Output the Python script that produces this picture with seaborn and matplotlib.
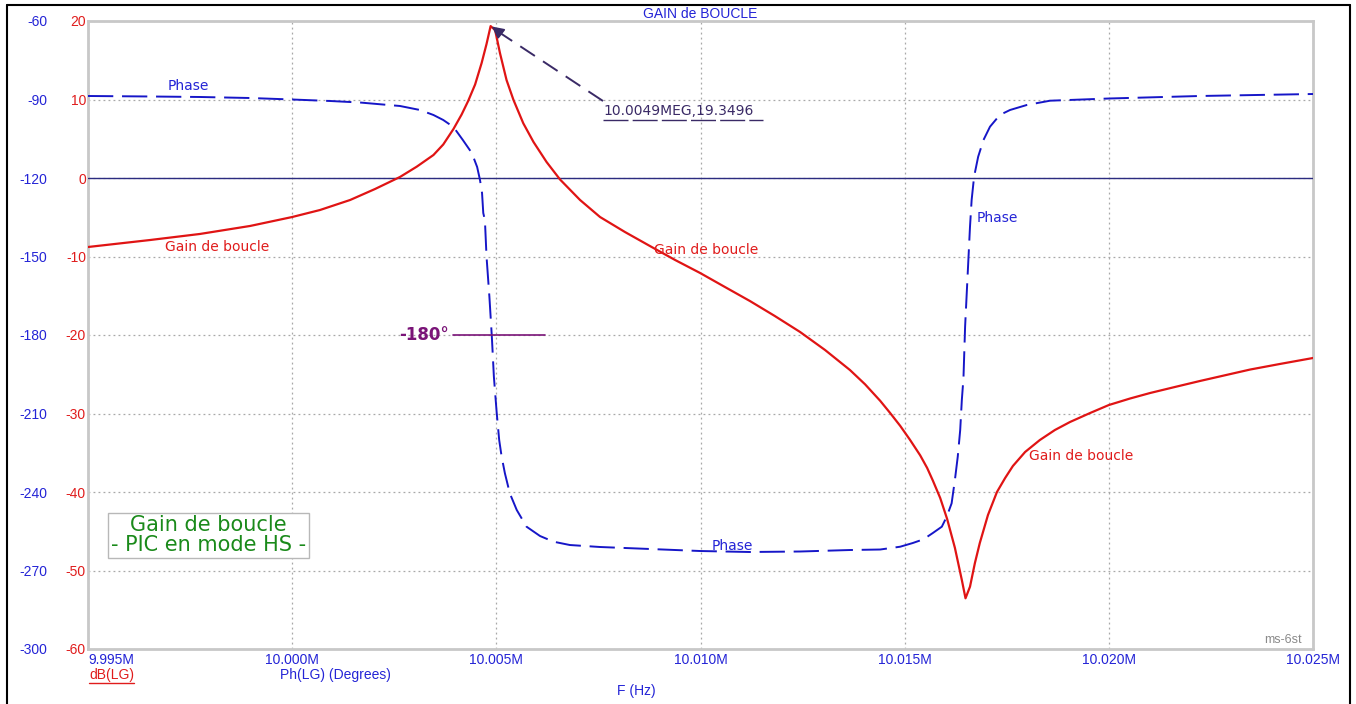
import matplotlib
matplotlib.use("Agg")
import matplotlib.pyplot as plt
from matplotlib.lines import Line2D
import seaborn as sns
import pandas as pd

# ---------------- data ----------------
gain_freq = [9.99500, 9.99652, 9.99774, 9.99897, 10.00000, 10.00068, 10.00142,
             10.00203, 10.00264, 10.00305, 10.00346, 10.00370, 10.00395, 10.00415,
             10.00431, 10.00448, 10.00464, 10.00476, 10.00486, 10.00497, 10.00509,
             10.00525, 10.00542, 10.00566, 10.00591, 10.00623, 10.00656, 10.00705,
             10.00754, 10.00815, 10.00876, 10.00938, 10.00999, 10.01060, 10.01121,
             10.01182, 10.01244, 10.01305, 10.01366, 10.01403, 10.01440, 10.01464,
             10.01489, 10.01513, 10.01538, 10.01555, 10.01569, 10.01587, 10.01604,
             10.01623, 10.01640, 10.01649, 10.01660, 10.01672, 10.01684, 10.01704,
             10.01726, 10.01746, 10.01765, 10.01795, 10.01831, 10.01868, 10.01905,
             10.01954, 10.02000, 10.02052, 10.02101, 10.02162, 10.02223, 10.02346,
             10.02419, 10.02500]
gain_db = [-8.79, -7.90, -7.13, -6.11, -4.97, -4.08, -2.80,
           -1.40, 0.13, 1.44, 2.93, 4.27, 6.24, 8.09,
           9.81, 11.91, 14.65, 17.07, 19.35, 18.85, 15.89,
           12.48, 9.94, 6.97, 4.59, 2.04, -0.19, -2.80,
           -4.97, -6.88, -8.66, -10.45, -12.10, -13.89, -15.67,
           -17.58, -19.62, -21.91, -24.46, -26.28, -28.38, -29.91,
           -31.57, -33.35, -35.33, -36.93, -38.54, -40.76, -43.44,
           -47.11, -51.21, -53.54, -52.06, -49.05, -46.50, -42.93,
           -40.00, -38.22, -36.69, -34.90, -33.38, -32.10, -31.08,
           -29.94, -28.92, -28.09, -27.39, -26.62, -25.86, -24.40,
           -23.69, -22.93]

phase_freq = [9.99500, 9.99652, 9.99774, 9.99897, 10.00000, 10.00093, 10.00166,
              10.00264, 10.00313, 10.00346, 10.00370, 10.00395, 10.00418, 10.00440,
              10.00453, 10.00460, 10.00465, 10.00468, 10.00472, 10.00476, 10.00483,
              10.00489, 10.00494, 10.00501, 10.00507, 10.00513, 10.00521, 10.00533,
              10.00550, 10.00574, 10.00607, 10.00640, 10.00680, 10.00754, 10.00876,
              10.00999, 10.01121, 10.01244, 10.01366, 10.01440, 10.01489, 10.01520,
              10.01546, 10.01569, 10.01591, 10.01603, 10.01615, 10.01623, 10.01630,
              10.01636, 10.01640, 10.01644, 10.01648, 10.01652, 10.01656, 10.01660,
              10.01664, 10.01670, 10.01680, 10.01693, 10.01709, 10.01733, 10.01758,
              10.01799, 10.01856, 10.02000, 10.02223, 10.02500]
phase_deg = [-88.66, -88.85, -89.04, -89.43, -90.00, -90.57, -91.15,
             -92.48, -94.01, -95.92, -97.83, -100.51, -105.48, -110.45,
             -115.80, -120.76, -125.73, -133.38, -136.05, -150.08, -165.36,
             -180.65, -195.94, -209.93, -220.13, -226.51, -232.86, -240.50,
             -246.88, -253.26, -256.82, -258.99, -260.26, -261.02, -261.78,
             -262.55, -262.93, -262.74, -262.17, -261.98, -260.91, -259.49,
             -258.08, -255.67, -253.26, -249.44, -244.32, -235.41, -226.51,
             -216.31, -204.84, -196.43, -176.83, -164.06, -151.34, -138.61,
             -128.41, -119.50, -111.86, -105.48, -100.39, -95.92, -94.01,
             -92.10, -90.46, -89.62, -88.66, -87.90]

x_ticks = [9.995, 10.000, 10.005, 10.010, 10.015, 10.020, 10.025]
x_tick_labels = ["9.995M", "10.000M", "10.005M", "10.010M", "10.015M", "10.020M", "10.025M"]
db_ticks = [20, 10, 0, -10, -20, -30, -40, -50, -60]
phase_ticks = [-60, -90, -120, -150, -180, -210, -240, -270, -300]

peak_freq, peak_db = 10.00486, 19.3496

# ---------------- style ----------------
sns.set_theme(style="white")
plt.rcParams["font.family"] = ["DejaVu Sans"]

BLUE_TXT = "#2424d6"
RED_TXT = "#e01c1c"
RED_LINE = "#e01414"
BLUE_LINE = "#1616c8"
GRID = "#a8a8a8"
FRAME = "#c8c8c8"
PURPLE = "#7a1478"
ANN = "#3a2a66"
GREEN = "#1a8a1a"

W, H = 1356, 704
fig = plt.figure(figsize=(W / 100, H / 100), dpi=100)
fig.patch.set_facecolor("white")

L, R, T, B = 88, 1313, 21, 649
ax = fig.add_axes([L / W, 1 - B / H, (R - L) / W, (B - T) / H])
ax2 = ax.twinx()

# gain (dB) on the primary axis
gdf = pd.DataFrame({"F": gain_freq, "dB": gain_db})
sns.lineplot(data=gdf, x="F", y="dB", ax=ax, color=RED_LINE, lw=1.6,
             estimator=None, sort=False, zorder=5)

# phase on the twin axis
pdf = pd.DataFrame({"F": phase_freq, "Ph": phase_deg})
sns.lineplot(data=pdf, x="F", y="Ph", ax=ax2, color=BLUE_LINE, lw=1.4,
             estimator=None, sort=False, zorder=5)
for ln in ax2.get_lines():
    ln.set_dashes((13, 4.5))

ax.set_xlim(9.995, 10.025)
ax.set_ylim(-60, 20)
ax2.set_ylim(-300, -60)

# grid
ax.set_xticks(x_ticks)
ax.set_xticklabels(x_tick_labels)
ax.set_yticks(db_ticks)
ax.set_yticklabels([str(v) for v in db_ticks])
ax.grid(True, linestyle=(0, (1.5, 2.5)), color=GRID, lw=0.9)
ax.axhline(0, color="#2c2c80", lw=1.0, zorder=3)
ax.set_axisbelow(True)
ax2.grid(False)
ax2.set_yticks(phase_ticks)
ax2.set_yticklabels([str(v) for v in phase_ticks])

for s in ax.spines.values():
    s.set_color(FRAME)
    s.set_linewidth(2)
for s in ax2.spines.values():
    s.set_visible(False)

ax.tick_params(axis="x", length=0, pad=3, labelsize=10, labelcolor=BLUE_TXT)
ax.tick_params(axis="y", length=0, pad=1.5, labelsize=10, labelcolor=RED_TXT)
ax2.yaxis.set_ticks_position("left")
ax2.yaxis.set_label_position("left")
ax2.tick_params(axis="y", length=0, pad=29.5, labelsize=10, labelcolor=BLUE_TXT)
for lab in ax.get_xticklabels() + ax.get_yticklabels() + ax2.get_yticklabels():
    lab.set_fontfamily("Liberation Sans")
ax.get_xticklabels()[0].set_horizontalalignment("left")
ax.set_xlabel("")
ax.set_ylabel("")
ax2.set_ylabel("")


def px2data(x, y, phase=False):
    f = 9.995 + (x - L) / (R - L) * 0.030
    if phase:
        return f, -60 - (y - T) / (B - T) * 240
    return f, 20 - (y - T) / (B - T) * 80


# curve labels
for txt, (x, y), ph, col, ha in [
    ("Phase", (188, 86), True, BLUE_TXT, "center"),
    ("Gain de boucle", (217, 247), False, RED_TXT, "center"),
    ("Gain de boucle", (706, 250), False, RED_TXT, "center"),
    ("Phase", (977, 218), True, BLUE_TXT, "left"),
    ("Gain de boucle", (1081, 456), False, RED_TXT, "center"),
    ("Phase", (732, 546), True, BLUE_TXT, "center"),
]:
    a = ax2 if ph else ax
    fx, fy = px2data(x, y, ph)
    a.text(fx, fy, txt, color=col, fontsize=10, ha=ha, va="center", zorder=7)

# -180 deg marker
f1, p1 = px2data(453, 336, True)
f2, _ = px2data(545, 336, True)
ax2.plot([f1, f2], [-180, -180], color=PURPLE, lw=1.2, zorder=6)
fx, _ = px2data(449, 336, True)
ax2.text(fx, -180, "-180°", color=PURPLE, fontsize=12, fontweight="bold",
         ha="right", va="center", zorder=7)

# peak annotation (dashed arrow)
sx, sy = px2data(603, 101)
ax.plot([sx, peak_freq + 0.00008], [sy, peak_db - 0.35], color=ANN, lw=1.4,
        dashes=(9, 5), zorder=8)
hx, hy = px2data(499, 32)
ax.annotate("", xy=(peak_freq + 0.00003, peak_db - 0.05), xytext=(hx, hy),
            arrowprops=dict(arrowstyle="-|>,head_length=0.6,head_width=0.3",
                            color=ANN, lw=1.2, shrinkA=0, shrinkB=0), zorder=8)
tx, ty = px2data(603, 111)
ax.text(tx, ty, f"{peak_freq + 0.00004:.4f}MEG,{peak_db:.4f}", color=ANN,
        fontsize=10, ha="left", va="center", zorder=8)
ux1, uy = px2data(603, 120)
ux2, _ = px2data(763, 120)
ax.plot([ux1, ux2], [uy, uy], color=ANN, lw=1.0, dashes=(18, 3), zorder=8)

# title and axis texts (figure pixels)
def ftext(x, y, s, **kw):
    fig.text(x / W, 1 - y / H, s, **kw)

ftext(700, 14, "GAIN de BOUCLE", color=BLUE_TXT, fontsize=10, ha="center",
      va="center", fontfamily="Liberation Sans")
ftext(636, 691, "F (Hz)", color=BLUE_TXT, fontsize=10, ha="center", va="center",
      fontfamily="Liberation Sans")
ftext(89, 675, "dB(LG)", color=RED_TXT, fontsize=10, ha="left", va="center",
      fontfamily="Liberation Sans")
fig.add_artist(Line2D([89 / W, 134 / W], [1 - 683 / H, 1 - 683 / H],
                      color=RED_TXT, lw=1.0))
ftext(280, 675, "Ph(LG) (Degrees)", color=BLUE_TXT, fontsize=10, ha="left",
      va="center", fontfamily="Liberation Sans")
ftext(1302, 640, "ms-6st", color="#8a8a8a", fontsize=9, ha="right", va="center",
      fontfamily="Liberation Sans")

# green info box
ftext(208.5, 535, "Gain de boucle\n- PIC en mode HS -", color=GREEN, fontsize=15,
      ha="center", va="center", linespacing=1.0,
      bbox=dict(boxstyle="square,pad=0.12", fc="white", ec="#b8b8b8", lw=1.0))

# outer black frame
for xs, ys in [([7, 7], [5, 704]), ([7, 1350], [5, 5]), ([1350, 1350], [5, 704])]:
    fig.add_artist(Line2D([x / W for x in xs], [1 - y / H for y in ys],
                          color="black", lw=1.5))

fig.savefig("out.png", dpi=100, facecolor="white")
